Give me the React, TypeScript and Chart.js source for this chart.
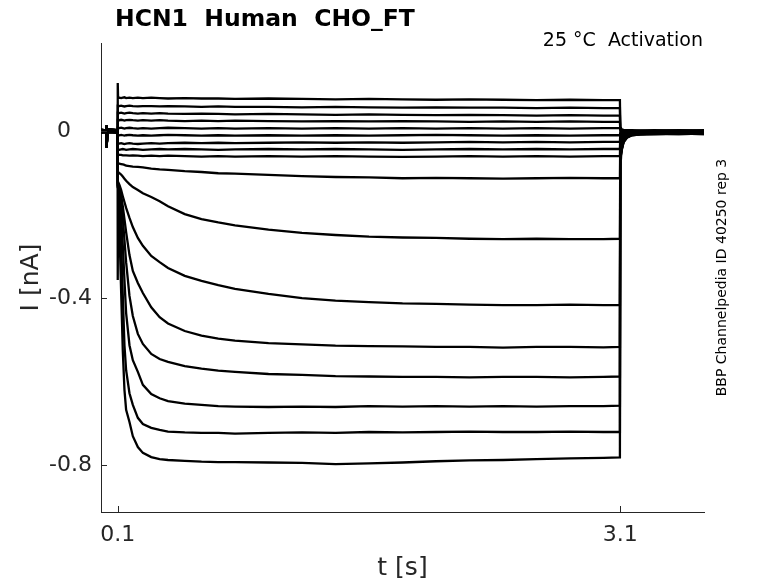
import { useEffect, useRef } from 'react';
import { Chart, registerables } from 'chart.js';

Chart.register(...registerables);

// time base [s]
const timePre = [0, 0.03, 0.033, 0.035, 0.038, 0.099];
const timeStep = [
  0.1, 0.102, 0.11, 0.12, 0.13, 0.14, 0.15, 0.17, 0.19, 0.22, 0.25, 0.3, 0.35, 0.4, 0.5,
  0.6, 0.7, 0.8, 1.0, 1.2, 1.4, 1.6, 1.8, 2.0, 2.2, 2.4, 2.6, 2.8, 3.0, 3.098,
];
const timePost = [3.1, 3.104, 3.11, 3.12, 3.14, 3.17, 3.22, 3.3, 3.45, 3.6];

// holding current before the step [nA]
const preA = [0.003, 0.002, 0.014, -0.04, 0.004, 0.002];
const preB = [-0.003, -0.002, 0.01, -0.036, -0.002, -0.003];

// current during the voltage step [nA], one array per sweep
const step01 = [0.115, 0.079, 0.08, 0.079, 0.08, 0.081, 0.079, 0.08, 0.079, 0.08, 0.079, 0.08, 0.079, 0.078, 0.079, 0.078, 0.078, 0.077, 0.078, 0.077, 0.076, 0.077, 0.076, 0.075, 0.076, 0.075, 0.074, 0.075, 0.074, 0.074];
const step02 = [0.061, 0.061, 0.06, 0.061, 0.06, 0.059, 0.06, 0.061, 0.06, 0.059, 0.06, 0.06, 0.059, 0.06, 0.059, 0.058, 0.059, 0.058, 0.058, 0.057, 0.058, 0.057, 0.056, 0.057, 0.056, 0.056, 0.055, 0.056, 0.055, 0.055];
const step03 = [0.044, 0.044, 0.043, 0.044, 0.043, 0.042, 0.043, 0.044, 0.043, 0.042, 0.043, 0.042, 0.043, 0.042, 0.041, 0.042, 0.041, 0.04, 0.041, 0.04, 0.039, 0.04, 0.039, 0.038, 0.039, 0.038, 0.037, 0.038, 0.037, 0.037];
const step04 = [0.027, 0.027, 0.026, 0.027, 0.026, 0.025, 0.026, 0.027, 0.026, 0.025, 0.026, 0.025, 0.026, 0.025, 0.024, 0.025, 0.024, 0.025, 0.024, 0.023, 0.024, 0.023, 0.024, 0.023, 0.022, 0.023, 0.022, 0.023, 0.022, 0.022];
const step05 = [0.008, 0.008, 0.007, 0.008, 0.007, 0.006, 0.007, 0.008, 0.007, 0.006, 0.007, 0.006, 0.007, 0.008, 0.007, 0.006, 0.007, 0.006, 0.007, 0.006, 0.007, 0.006, 0.007, 0.006, 0.007, 0.006, 0.007, 0.006, 0.007, 0.007];
const step06 = [-0.009, -0.009, -0.01, -0.009, -0.01, -0.011, -0.01, -0.009, -0.01, -0.011, -0.01, -0.011, -0.01, -0.009, -0.01, -0.011, -0.01, -0.011, -0.01, -0.011, -0.01, -0.011, -0.01, -0.009, -0.01, -0.011, -0.01, -0.011, -0.01, -0.01];
const step07 = [-0.029, -0.029, -0.03, -0.029, -0.03, -0.031, -0.03, -0.029, -0.03, -0.031, -0.03, -0.029, -0.03, -0.029, -0.028, -0.029, -0.028, -0.029, -0.028, -0.027, -0.028, -0.027, -0.028, -0.027, -0.026, -0.027, -0.026, -0.027, -0.026, -0.026];
const step08 = [-0.044, -0.044, -0.045, -0.044, -0.043, -0.044, -0.045, -0.044, -0.043, -0.044, -0.045, -0.044, -0.043, -0.044, -0.043, -0.044, -0.045, -0.044, -0.043, -0.044, -0.043, -0.044, -0.045, -0.044, -0.043, -0.044, -0.043, -0.044, -0.043, -0.043];
const step09 = [-0.056, -0.056, -0.057, -0.057, -0.058, -0.058, -0.058, -0.059, -0.058, -0.059, -0.06, -0.059, -0.06, -0.059, -0.06, -0.061, -0.06, -0.061, -0.06, -0.061, -0.06, -0.061, -0.062, -0.061, -0.06, -0.061, -0.06, -0.061, -0.06, -0.06];
const step10 = [-0.077, -0.077, -0.078, -0.079, -0.08, -0.081, -0.083, -0.084, -0.085, -0.086, -0.087, -0.09, -0.092, -0.093, -0.096, -0.098, -0.101, -0.102, -0.105, -0.108, -0.11, -0.111, -0.113, -0.112, -0.113, -0.114, -0.113, -0.112, -0.113, -0.113];
const step11 = [-0.098, -0.098, -0.101, -0.104, -0.109, -0.114, -0.119, -0.127, -0.134, -0.141, -0.149, -0.158, -0.168, -0.18, -0.199, -0.211, -0.219, -0.226, -0.236, -0.244, -0.249, -0.253, -0.255, -0.256, -0.258, -0.259, -0.258, -0.259, -0.259, -0.258];
const step12 = [-0.122, -0.122, -0.129, -0.141, -0.156, -0.17, -0.184, -0.208, -0.23, -0.256, -0.275, -0.299, -0.314, -0.328, -0.347, -0.359, -0.369, -0.378, -0.39, -0.4, -0.406, -0.41, -0.413, -0.414, -0.416, -0.417, -0.417, -0.416, -0.417, -0.417];
const step13 = [-0.125, -0.125, -0.134, -0.153, -0.18, -0.211, -0.242, -0.297, -0.335, -0.364, -0.388, -0.422, -0.446, -0.461, -0.479, -0.49, -0.497, -0.502, -0.508, -0.511, -0.514, -0.515, -0.516, -0.517, -0.517, -0.519, -0.517, -0.517, -0.518, -0.517];
const step14 = [-0.129, -0.129, -0.141, -0.165, -0.208, -0.261, -0.314, -0.395, -0.443, -0.486, -0.51, -0.534, -0.546, -0.553, -0.563, -0.569, -0.574, -0.577, -0.582, -0.584, -0.587, -0.588, -0.589, -0.589, -0.59, -0.589, -0.589, -0.59, -0.589, -0.588];
const step15 = [-0.132, -0.132, -0.153, -0.201, -0.273, -0.357, -0.436, -0.513, -0.549, -0.577, -0.608, -0.63, -0.64, -0.647, -0.653, -0.656, -0.659, -0.66, -0.661, -0.66, -0.661, -0.659, -0.66, -0.659, -0.66, -0.659, -0.66, -0.659, -0.659, -0.658];
const step16 = [-0.134, -0.134, -0.177, -0.261, -0.393, -0.513, -0.573, -0.628, -0.656, -0.687, -0.702, -0.711, -0.716, -0.72, -0.722, -0.723, -0.723, -0.725, -0.723, -0.722, -0.723, -0.721, -0.722, -0.721, -0.72, -0.721, -0.721, -0.72, -0.721, -0.721];
const step17 = [-0.357, -0.137, -0.237, -0.381, -0.525, -0.62, -0.668, -0.697, -0.731, -0.757, -0.771, -0.781, -0.786, -0.788, -0.79, -0.792, -0.793, -0.793, -0.794, -0.795, -0.798, -0.796, -0.794, -0.791, -0.789, -0.788, -0.786, -0.784, -0.783, -0.782];

// current after the step (tail) [nA]
const post01 = [0.01, 0.006, 0.004, 0.003, 0.002, 0.002, 0.001, 0.002, 0.001, 0.002];
const post02 = [0.008, 0.005, 0.003, 0.002, 0.002, 0.001, 0.001, 0.001, 0.002, 0.001];
const post03 = [0.006, 0.004, 0.002, 0.001, 0.001, 0.0, 0.001, 0.0, 0.001, 0.0];
const post04 = [0.004, 0.002, 0.001, 0.0, 0.0, -0.001, 0.0, -0.001, 0.0, -0.001];
const post05 = [0.002, 0.0, -0.001, -0.001, -0.002, -0.002, -0.001, -0.002, -0.001, -0.002];
const post06 = [-0.004, -0.005, -0.004, -0.003, -0.003, -0.002, -0.003, -0.002, -0.003, -0.002];
const post07 = [-0.01, -0.009, -0.007, -0.005, -0.004, -0.004, -0.003, -0.004, -0.003, -0.004];
const post08 = [-0.016, -0.013, -0.01, -0.007, -0.005, -0.005, -0.004, -0.005, -0.004, -0.005];
const post09 = [-0.022, -0.018, -0.013, -0.009, -0.007, -0.006, -0.005, -0.006, -0.005, -0.006];
const post10 = [-0.03, -0.025, -0.018, -0.012, -0.008, -0.006, -0.006, -0.005, -0.006, -0.005];
const post11 = [-0.04, -0.035, -0.025, -0.016, -0.01, -0.007, -0.006, -0.006, -0.005, -0.006];
const post12 = [-0.05, -0.045, -0.032, -0.02, -0.012, -0.008, -0.006, -0.005, -0.006, -0.005];
const post13 = [-0.056, -0.05, -0.036, -0.022, -0.013, -0.008, -0.007, -0.006, -0.005, -0.006];
const post14 = [-0.06, -0.054, -0.039, -0.024, -0.014, -0.009, -0.007, -0.006, -0.007, -0.006];
const post15 = [-0.062, -0.056, -0.041, -0.025, -0.015, -0.009, -0.007, -0.007, -0.006, -0.007];
const post16 = [-0.064, -0.058, -0.042, -0.026, -0.015, -0.01, -0.008, -0.007, -0.006, -0.007];
const post17 = [-0.066, -0.06, -0.044, -0.027, -0.016, -0.01, -0.008, -0.007, -0.007, -0.006];

const sweeps = [
  [preA, step01, post01], [preA, step02, post02], [preA, step03, post03],
  [preA, step04, post04], [preA, step05, post05], [preA, step06, post06],
  [preA, step07, post07], [preA, step08, post08], [preB, step09, post09],
  [preB, step10, post10], [preB, step11, post11], [preB, step12, post12],
  [preB, step13, post13], [preB, step14, post14], [preB, step15, post15],
  [preB, step16, post16], [preB, step17, post17],
];

const xTicks = [0.1, 3.1];
const xTickLabels = ['0.1', '3.1'];
const yTicks = [-0.8, -0.4, 0];
const yTickLabels = ['-0.8', '-0.4', '0   '];

const titleText = 'HCN1  Human  CHO_FT';
const conditionText = '25 °C  Activation';
const sourceText = 'BBP Channelpedia ID 40250 rep 3';
const xLabel = 't [s]';
const yLabel = 'I [nA]';

const FONT = '"DejaVu Sans", sans-serif';
const AXIS = '#262626';

const textPlugin = {
  id: 'matlabText',
  afterDraw(chart: Chart) {
    const { ctx, chartArea } = chart;
    const xs = chart.scales.x;
    const ys = chart.scales.y;
    ctx.save();
    // inward tick marks
    ctx.strokeStyle = AXIS;
    ctx.lineWidth = 1;
    ctx.beginPath();
    xTicks.forEach((v) => {
      const px = Math.round(xs.getPixelForValue(v)) + 0.5;
      ctx.moveTo(px, chartArea.bottom);
      ctx.lineTo(px, chartArea.bottom - 6);
    });
    yTicks.forEach((v) => {
      const py = Math.round(ys.getPixelForValue(v)) + 0.5;
      ctx.moveTo(chartArea.left, py);
      ctx.lineTo(chartArea.left + 6, py);
    });
    ctx.stroke();

    ctx.fillStyle = '#000';
    ctx.textBaseline = 'alphabetic';
    ctx.font = `bold 23.5px ${FONT}`;
    ctx.textAlign = 'left';
    ctx.fillText(titleText, chartArea.left + 14, 26);

    ctx.font = `19px ${FONT}`;
    ctx.textAlign = 'right';
    ctx.fillText(conditionText, chartArea.right - 1, 46);

    const midY = (chartArea.top + chartArea.bottom) / 2;
    ctx.save();
    ctx.translate(726, midY);
    ctx.rotate(-Math.PI / 2);
    ctx.font = `14px ${FONT}`;
    ctx.textAlign = 'center';
    ctx.fillText(sourceText, 0, 0);
    ctx.restore();

    ctx.fillStyle = AXIS;
    ctx.font = `25px ${FONT}`;
    ctx.textAlign = 'center';
    ctx.fillText(xLabel, (chartArea.left + chartArea.right) / 2, 575);

    ctx.save();
    ctx.translate(38, midY);
    ctx.rotate(-Math.PI / 2);
    ctx.fillText(yLabel, 0, 0);
    ctx.restore();

    ctx.restore();
  },
};

export default function App() {
  const canvasRef = useRef<HTMLCanvasElement | null>(null);

  useEffect(() => {
    if (!canvasRef.current) return;
    Chart.defaults.font.family = FONT;

    const datasets = sweeps.map(([pre, stepI, post]) => ({
      data: [
        ...timePre.map((t, k) => ({ x: t, y: pre[k] })),
        ...timeStep.map((t, k) => ({ x: t, y: stepI[k] })),
        ...timePost.map((t, k) => ({ x: t, y: post[k] })),
      ],
      borderColor: '#000',
      borderWidth: 2.3,
      pointRadius: 0,
      tension: 0,
      fill: false,
    }));

    const chart = new Chart(canvasRef.current, {
      type: 'line',
      data: { datasets },
      options: {
        animation: false,
        responsive: true,
        maintainAspectRatio: false,
        layout: { padding: { top: 43, right: 74, left: 0, bottom: 0 } },
        plugins: {
          legend: { display: false },
          tooltip: { enabled: false },
          title: { display: false },
        },
        scales: {
          x: {
            type: 'linear',
            min: 0,
            max: 3.6,
            grid: { display: false, drawTicks: false },
            border: { display: true, color: AXIS, width: 1 },
            afterBuildTicks: (s: any) => {
              s.ticks = xTicks.map((v) => ({ value: v }));
            },
            afterFit: (s: any) => {
              s.height = 71;
            },
            ticks: {
              autoSkip: false,
              maxRotation: 0,
              padding: 10,
              color: AXIS,
              font: { size: 22 },
              callback: (_v: any, i: number) => xTickLabels[i],
            },
          },
          y: {
            type: 'linear',
            min: -0.9126,
            max: 0.211,
            grid: { display: false, drawTicks: false },
            border: { display: true, color: AXIS, width: 1 },
            afterBuildTicks: (s: any) => {
              s.ticks = yTicks.map((v) => ({ value: v }));
            },
            afterFit: (s: any) => {
              s.width = 101;
            },
            ticks: {
              autoSkip: false,
              padding: 9,
              color: AXIS,
              font: { size: 22 },
              callback: (_v: any, i: number) => yTickLabels[i],
            },
          },
        },
      },
      plugins: [textPlugin],
    });

    return () => chart.destroy();
  }, []);

  return (
    <div style={{ position: 'absolute', left: 0, top: 0, width: 778, height: 583, background: '#fff' }}>
      <canvas ref={canvasRef} />
    </div>
  );
}
